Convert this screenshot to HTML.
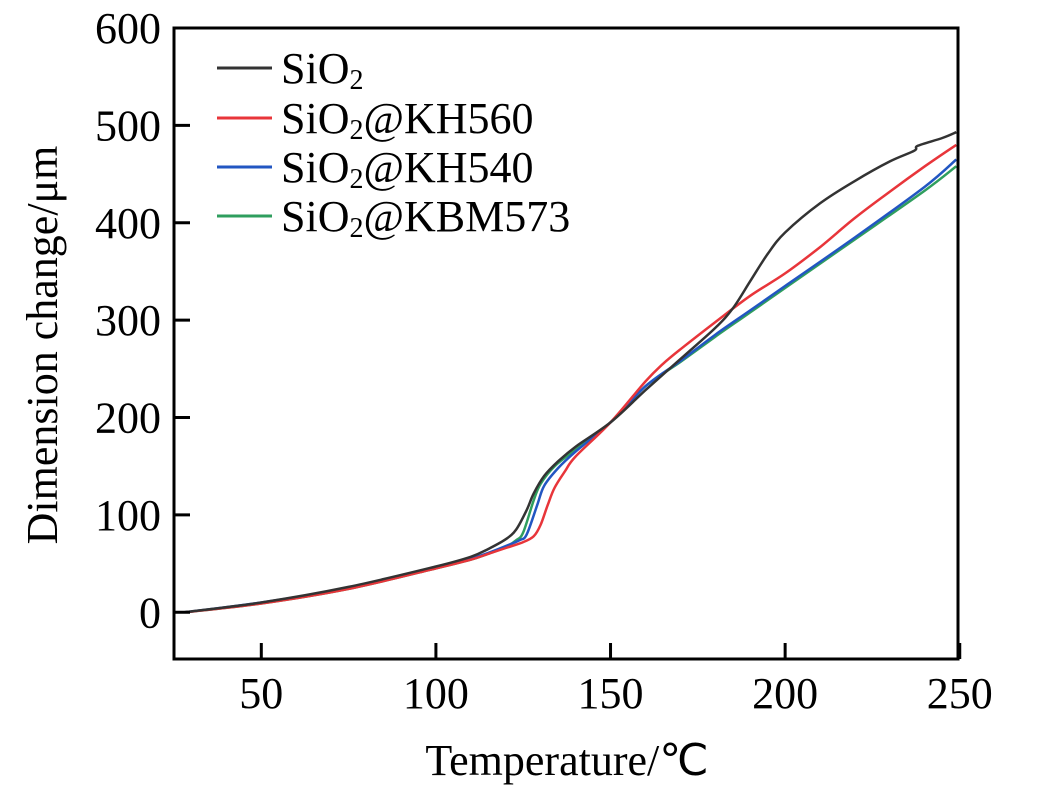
<!DOCTYPE html>
<html><head><meta charset="utf-8"><style>
body{margin:0;background:#fff;}
svg{display:block;font-family:"Liberation Serif",serif;}
</style></head><body>
<svg id="chart" width="1037" height="787"></svg>
<script>
const xTicks=[50,100,150,200,250];
const yTicks=[0,100,200,300,400,500,600];
const seriesNames=["SiO\u2082","SiO\u2082@KH560","SiO\u2082@KH540","SiO\u2082@KBM573"];
const seriesColors=["#333333","#e8353a","#2256c2","#2f9e5e"];
const tempsBlack=[28,50,75,100,110,115,120,123,126,128,131,135,140,150,160,170,180,185,190,195,200,210,220,230,237,238,245,249];
const valsBlack=[0,10,26,47,57,65,75,85,105,122,140,155,170,195,228,260,292,312,340,368,390,420,443,463,474,479,487,493];
const tempsRed=[28,50,75,100,110,115,120,125,128,130,132,134,137,140,150,160,165,170,180,190,200,210,220,230,240,249];
const valsRed=[0,9,24,45,54,60,66,72,78,90,110,128,145,160,195,237,255,270,298,325,348,375,405,432,458,480];
const tempsBlue=[28,50,75,100,110,115,120,124,126,129,131,135,140,150,160,170,180,190,200,220,240,249];
const valsBlue=[0,10,25,46,55,61,68,74,80,110,130,148,165,195,232,258,285,310,335,385,437,465];
const tempsGreen=[28,50,75,100,110,115,120,123,125,128,130,134,140,150,160,170,180,190,200,220,240,249];
const valsGreen=[0,9,24,45,54,60,67,74,82,115,132,150,167,195,232,257,283,308,333,383,433,458];
const seriesT=[tempsBlack,tempsRed,tempsBlue,tempsGreen];
const seriesV=[valsBlack,valsRed,valsBlue,valsGreen];
const drawOrder=[3,2,1,0];

const L=174,R=958,T=28,B=659,xMin=25,xMax=249.5,yMin=-48,yMax=600;
const sx=v=>L+(v-xMin)/(xMax-xMin)*(R-L);
const sy=v=>B-(v-yMin)/(yMax-yMin)*(B-T);
const NS="http://www.w3.org/2000/svg";
const svg=document.getElementById('chart');
function mk(tag,attrs,parent){const e=document.createElementNS(NS,tag);for(const k in attrs)e.setAttribute(k,attrs[k]);(parent||svg).appendChild(e);return e;}
function smooth(pts){
  let d='M'+pts[0][0].toFixed(1)+','+pts[0][1].toFixed(1);
  for(let i=0;i<pts.length-1;i++){
    const p0=pts[Math.max(0,i-1)],p1=pts[i],p2=pts[i+1],p3=pts[Math.min(pts.length-1,i+2)];
    const c1=[p1[0]+(p2[0]-p0[0])/6,p1[1]+(p2[1]-p0[1])/6];
    const c2=[p2[0]-(p3[0]-p1[0])/6,p2[1]-(p3[1]-p1[1])/6];
    d+=' C'+c1.map(v=>v.toFixed(1)).join(',')+' '+c2.map(v=>v.toFixed(1)).join(',')+' '+p2.map(v=>v.toFixed(1)).join(',');
  }
  return d;
}

drawOrder.forEach(i=>{
  const pts=seriesT[i].map((t,j)=>[sx(t),sy(seriesV[i][j])]);
  const p=mk('path',{d:smooth(pts),fill:'none',stroke:seriesColors[i],'stroke-width':2.5,'stroke-linejoin':'round'});
  
  
});
const fr=mk('rect',{x:L,y:T,width:R-L,height:B-T,fill:'none',stroke:'#000','stroke-width':3});


xTicks.forEach(v=>{
  const x=sx(v);
  const t=mk('line',{x1:x,x2:x,y1:B,y2:B-16,stroke:'#000','stroke-width':3});
  
  
  const lb=mk('text',{x:x,y:B+49,'text-anchor':'middle','font-size':44});
  lb.textContent=v;
  
  
});
yTicks.forEach(v=>{
  const y=sy(v);
  const t=mk('line',{x1:L,x2:L+16,y1:y,y2:y,stroke:'#000','stroke-width':3});
  
  
  const lb=mk('text',{x:L-13,y:y+15,'text-anchor':'end','font-size':44});
  lb.textContent=v;
  
  
});
const xt=mk('text',{x:567,y:775,'text-anchor':'middle','font-size':44});
xt.textContent='Temperature/\u2103';


const yt=mk('text',{x:0,y:0,'text-anchor':'middle','font-size':44,transform:'translate(57,345) rotate(-90)'});
yt.textContent='Dimension change/\u03bcm';


const legY=[68,118,167,216];
seriesNames.forEach((n,i)=>{
  const g=mk('g',{});
  
  
  mk('line',{x1:217,x2:272,y1:legY[i],y2:legY[i],stroke:seriesColors[i],'stroke-width':3},g);
  const tx=mk('text',{x:281,y:legY[i]+15,'font-size':44},g);
  const parts=n.split('\u2082');
  tx.appendChild(document.createTextNode('SiO'));
  const sub=mk('tspan',{'font-size':28,dy:6},tx);sub.textContent='2';
  if(parts[1]){const r=mk('tspan',{dy:-6},tx);r.textContent=parts[1];}
});
</script>
</body></html>
